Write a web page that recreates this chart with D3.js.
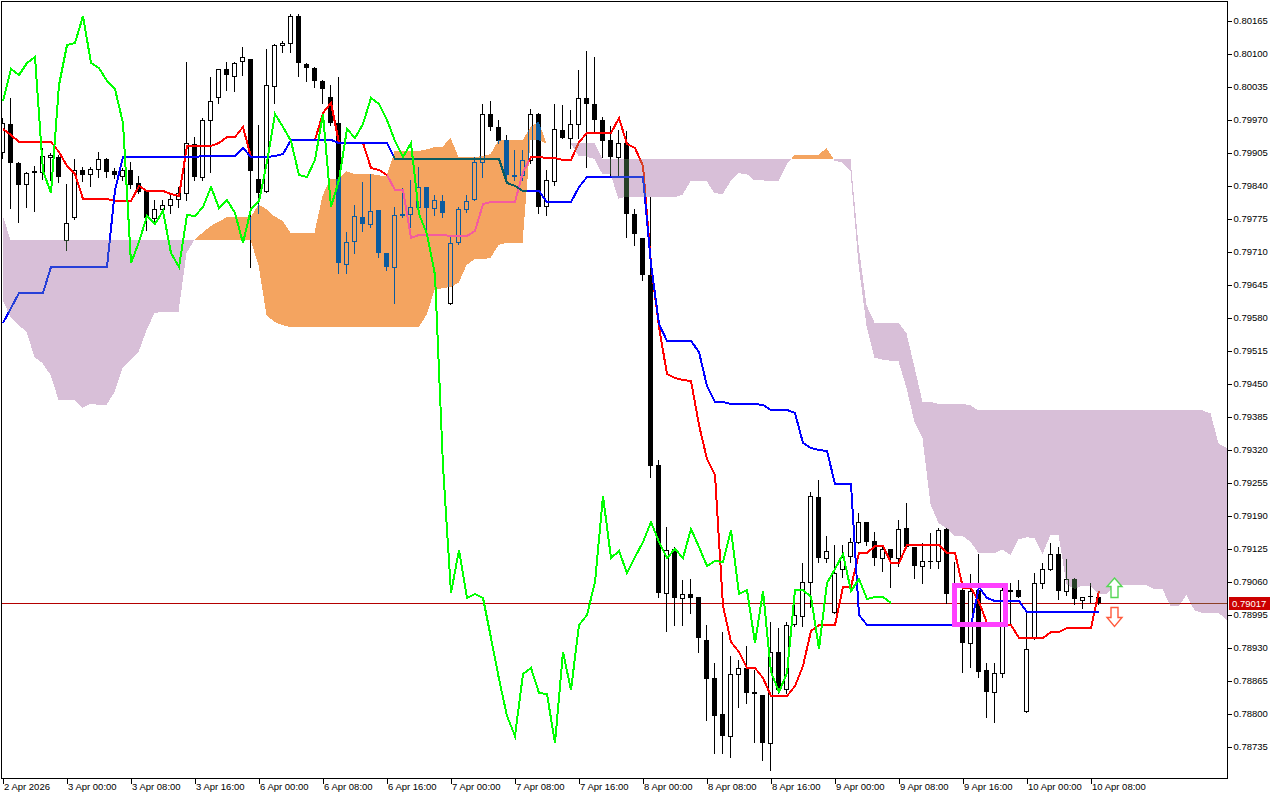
<!DOCTYPE html>
<html><head><meta charset="utf-8">
<script src="https://cdn.jsdelivr.net/npm/d3@7"></script>
<style>html,body{margin:0;padding:0;background:#fff;} svg{display:block;isolation:isolate;}</style>
</head><body>
<svg id="c" width="1280" height="800"></svg>
<script>
// ---------- DATA (H1 candles + Ichimoku) ----------
const open = [0.79905,0.79960,0.79883,0.79842,0.79866,0.79866,0.79895,0.79895,0.79732,0.79777,
0.79870,0.79862,0.79872,0.79891,0.79868,0.79858,0.79870,0.79844,0.79830,0.79775,
0.79793,0.79801,0.79812,0.79824,0.79921,0.79856,0.79968,0.80013,0.80068,0.80055,
0.80084,0.80088,0.79852,0.79828,0.80035,0.80116,0.80120,0.80173,0.80078,0.80070,
0.80045,0.80013,0.79962,0.79684,0.79730,0.79777,0.79763,0.79791,0.79706,0.79678,
0.79783,0.79783,0.79797,0.79836,0.79795,0.79808,0.79608,0.79728,0.79793,0.79812,
0.79885,0.79980,0.79954,0.79929,0.79860,0.79860,0.79889,0.79980,0.79799,0.79848,
0.79948,0.79933,0.79960,0.80011,0.79999,0.79968,0.79929,0.79895,0.79923,0.79783,
0.79736,0.79663,0.79288,0.79036,0.79123,0.79027,0.79034,0.79028,0.78944,0.78869,
0.78798,0.78755,0.78877,0.78889,0.78841,0.78835,0.78741,0.78920,0.78847,0.78975,
0.78991,0.79058,0.79225,0.79105,0.78999,0.79084,0.79109,0.79137,0.79176,0.79139,
0.79105,0.79123,0.79105,0.79164,0.79127,0.79090,0.79099,0.79099,0.79162,0.79034,
0.79042,0.78938,0.79042,0.78885,0.78841,0.78879,0.79041,0.79042,0.78804,0.78948,
0.79056,0.79084,0.79113,0.79040,0.79064,0.79023,0.79030,0.79028];
const high = [0.79972,0.80011,0.79885,0.79866,0.79877,0.79913,0.79903,0.79899,0.79842,0.79891,
0.79875,0.79875,0.79905,0.79893,0.79874,0.79874,0.79885,0.79858,0.79830,0.79810,
0.79810,0.79824,0.79836,0.80082,0.79935,0.79972,0.80053,0.80068,0.80082,0.80082,
0.80112,0.80088,0.79958,0.80108,0.80118,0.80124,0.80177,0.80177,0.80080,0.80072,
0.80047,0.80037,0.80053,0.79747,0.79801,0.79846,0.79862,0.79791,0.79706,0.79797,
0.79834,0.79850,0.79875,0.79836,0.79820,0.79820,0.79738,0.79797,0.79820,0.79895,
0.79999,0.80005,0.79968,0.79938,0.79909,0.79909,0.79990,0.79982,0.79870,0.79999,
0.79998,0.79988,0.80067,0.80104,0.80092,0.79974,0.79956,0.79948,0.79946,0.79793,
0.79736,0.79816,0.79298,0.79166,0.79127,0.79062,0.79064,0.79028,0.78973,0.78898,
0.78960,0.78912,0.78904,0.78932,0.78885,0.78835,0.78979,0.78967,0.78979,0.79019,
0.79096,0.79235,0.79259,0.79149,0.79131,0.79131,0.79145,0.79194,0.79176,0.79156,
0.79131,0.79123,0.79180,0.79214,0.79127,0.79135,0.79154,0.79164,0.79164,0.79097,
0.79050,0.79074,0.79113,0.78898,0.78898,0.79050,0.79056,0.79062,0.79003,0.79076,
0.79096,0.79135,0.79127,0.79103,0.79066,0.79028,0.79056,0.79030];
const low = [0.79893,0.79795,0.79767,0.79797,0.79789,0.79852,0.79850,0.79846,0.79712,0.79773,
0.79848,0.79838,0.79856,0.79856,0.79854,0.79850,0.79834,0.79824,0.79751,0.79763,
0.79785,0.79785,0.79797,0.79810,0.79850,0.79850,0.79866,0.80001,0.80027,0.80025,
0.80057,0.79678,0.79785,0.79826,0.80001,0.80102,0.80102,0.80055,0.80045,0.80033,
0.80001,0.79958,0.79667,0.79667,0.79706,0.79749,0.79757,0.79698,0.79673,0.79608,
0.79777,0.79757,0.79785,0.79751,0.79781,0.79777,0.79606,0.79724,0.79787,0.79810,
0.79856,0.79948,0.79923,0.79850,0.79850,0.79850,0.79883,0.79785,0.79781,0.79840,
0.79933,0.79913,0.79933,0.79875,0.79942,0.79895,0.79860,0.79860,0.79738,0.79722,
0.79653,0.79265,0.79028,0.78962,0.78973,0.78973,0.78997,0.78920,0.78786,0.78721,
0.78721,0.78713,0.78812,0.78820,0.78743,0.78707,0.78688,0.78839,0.78839,0.78971,
0.78971,0.79009,0.79097,0.79097,0.78997,0.79068,0.79097,0.79135,0.79131,0.79091,
0.79080,0.79048,0.79090,0.79127,0.79066,0.79056,0.79086,0.79086,0.79017,0.79027,
0.78881,0.78891,0.78871,0.78792,0.78782,0.78871,0.78977,0.79028,0.78802,0.78946,
0.79046,0.79082,0.79025,0.79032,0.79015,0.79007,0.79019,0.79015];
const close = [0.79962,0.79883,0.79840,0.79864,0.79868,0.79897,0.79899,0.79856,0.79765,0.79870,
0.79860,0.79872,0.79891,0.79866,0.79860,0.79870,0.79840,0.79826,0.79775,0.79793,
0.79801,0.79812,0.79824,0.79923,0.79856,0.79968,0.80005,0.80068,0.80057,0.80080,
0.80092,0.79868,0.79824,0.80037,0.80116,0.80120,0.80173,0.80080,0.80070,0.80045,
0.80029,0.79962,0.79686,0.79728,0.79779,0.79763,0.79789,0.79706,0.79678,0.79781,
0.79779,0.79797,0.79836,0.79795,0.79810,0.79785,0.79726,0.79793,0.79808,0.79885,
0.79980,0.79954,0.79927,0.79860,0.79856,0.79889,0.79980,0.79797,0.79850,0.79950,
0.79933,0.79960,0.80011,0.79999,0.79968,0.79927,0.79895,0.79923,0.79783,0.79743,
0.79663,0.79286,0.79036,0.79121,0.79027,0.79034,0.79027,0.78948,0.78867,0.78794,
0.78755,0.78877,0.78889,0.78839,0.78837,0.78741,0.78920,0.78845,0.78973,0.78993,
0.79058,0.79227,0.79105,0.79119,0.79076,0.79107,0.79137,0.79176,0.79137,0.79105,
0.79123,0.79105,0.79162,0.79127,0.79090,0.79099,0.79097,0.79160,0.79034,0.79042,
0.78938,0.79040,0.78881,0.78841,0.78879,0.79042,0.79043,0.79028,0.78926,0.79056,
0.79084,0.79113,0.79040,0.79064,0.79025,0.79028,0.79029,0.79017];
const tenkan = [0.79950,0.79938,0.79925,0.79925,0.79925,0.79925,0.79925,0.79905,0.79877,0.79862,
0.79812,0.79812,0.79812,0.79812,0.79808,0.79808,0.79808,0.79839,0.79828,0.79828,
0.79828,0.79822,0.79818,0.79917,0.79917,0.79917,0.79917,0.79923,0.79934,0.79934,
0.79954,0.79895,0.79895,0.79895,0.79897,0.79901,0.79928,0.79928,0.79928,0.79928,
0.79981,0.80001,0.79922,0.79922,0.79922,0.79922,0.79873,0.79870,0.79860,0.79830,
0.79830,0.79735,0.79741,0.79741,0.79741,0.79741,0.79740,0.79740,0.79740,0.79750,
0.79803,0.79806,0.79806,0.79806,0.79806,0.79865,0.79896,0.79895,0.79893,0.79893,
0.79890,0.79890,0.79924,0.79942,0.79942,0.79942,0.79942,0.79972,0.79921,0.79913,
0.79878,0.79684,0.79560,0.79468,0.79459,0.79455,0.79454,0.79368,0.79301,0.79269,
0.79010,0.78940,0.78920,0.78889,0.78889,0.78868,0.78833,0.78833,0.78833,0.78853,
0.78892,0.78962,0.78973,0.78973,0.78973,0.79049,0.79049,0.79115,0.79115,0.79128,
0.79128,0.79096,0.79096,0.79131,0.79131,0.79131,0.79131,0.79131,0.79115,0.79115,
0.79047,0.79047,0.79018,0.78978,0.78973,0.78973,0.78973,0.78948,0.78948,0.78948,
0.78948,0.78959,0.78959,0.78968,0.78968,0.78968,0.78968,0.79040];
const kijun = [0.79568,0.79598,0.79627,0.79627,0.79627,0.79627,0.79679,0.79679,0.79679,0.79679,
0.79679,0.79679,0.79679,0.79679,0.79830,0.79895,0.79895,0.79895,0.79895,0.79895,
0.79895,0.79895,0.79895,0.79895,0.79895,0.79897,0.79897,0.79897,0.79897,0.79897,
0.79912,0.79895,0.79895,0.79895,0.79897,0.79901,0.79928,0.79928,0.79928,0.79928,
0.79928,0.79928,0.79922,0.79922,0.79922,0.79922,0.79922,0.79922,0.79922,0.79892,
0.79892,0.79892,0.79892,0.79892,0.79892,0.79892,0.79891,0.79891,0.79891,0.79891,
0.79891,0.79891,0.79891,0.79843,0.79839,0.79829,0.79829,0.79829,0.79806,0.79806,
0.79806,0.79806,0.79836,0.79855,0.79855,0.79855,0.79855,0.79855,0.79855,0.79855,
0.79855,0.79684,0.79566,0.79533,0.79533,0.79533,0.79533,0.79512,0.79445,0.79413,
0.79413,0.79409,0.79409,0.79409,0.79409,0.79406,0.79396,0.79396,0.79396,0.79390,
0.79331,0.79322,0.79318,0.79317,0.79252,0.79252,0.79252,0.78993,0.78973,0.78973,
0.78973,0.78973,0.78973,0.78973,0.78973,0.78973,0.78973,0.78973,0.78973,0.78973,
0.78973,0.78973,0.79049,0.79026,0.79021,0.79021,0.79021,0.79021,0.78998,0.78998,
0.78998,0.78998,0.78998,0.78998,0.78998,0.78998,0.78998,0.78998];
// Senkou spans, already displaced 26 bars forward (index = bar position on chart)
const spanA = [0.79614,0.79580,0.79564,0.79551,0.79501,0.79489,0.79466,0.79417,0.79417,0.79417,
0.79401,0.79409,0.79407,0.79407,0.79432,0.79480,0.79495,0.79511,0.79554,0.79588,
0.79590,0.79590,0.79590,0.79706,0.79732,0.79746,0.79759,0.79768,0.79776,0.79776,
0.79776,0.79776,0.79802,0.79792,0.79778,0.79770,0.79746,0.79746,0.79746,0.79746,
0.79819,0.79852,0.79852,0.79867,0.79862,0.79862,0.79862,0.79859,0.79857,0.79906,
0.79906,0.79907,0.79907,0.79910,0.79915,0.79915,0.79933,0.79895,0.79895,0.79895,
0.79897,0.79901,0.79928,0.79928,0.79928,0.79928,0.79954,0.79965,0.79922,0.79922,
0.79922,0.79922,0.79898,0.79896,0.79891,0.79861,0.79861,0.79813,0.79817,0.79817,
0.79817,0.79817,0.79816,0.79816,0.79816,0.79821,0.79847,0.79848,0.79848,0.79824,
0.79822,0.79847,0.79863,0.79862,0.79849,0.79849,0.79848,0.79848,0.79880,0.79899,
0.79899,0.79899,0.79899,0.79913,0.79888,0.79884,0.79867,0.79684,0.79563,0.79500,
0.79496,0.79494,0.79493,0.79440,0.79373,0.79341,0.79211,0.79174,0.79164,0.79149,
0.79149,0.79137,0.79115,0.79115,0.79115,0.79122,0.79111,0.79142,0.79146,0.79145,
0.79113,0.79151,0.79151,0.79054,0.79044,0.79051,0.79051,0.79034,0.79034,0.79052,
0.79052,0.79052,0.79052,0.79052,0.79044,0.79044,0.79010,0.79010,0.79033,0.79002,
0.78997,0.78997,0.78997,0.78984,0.78973];
const spanB = [0.79781,0.79732,0.79732,0.79732,0.79732,0.79732,0.79732,0.79732,0.79732,0.79732,
0.79732,0.79732,0.79732,0.79732,0.79732,0.79732,0.79732,0.79732,0.79732,0.79732,
0.79732,0.79732,0.79732,0.79732,0.79732,0.79732,0.79732,0.79732,0.79732,0.79732,
0.79732,0.79732,0.79682,0.79584,0.79570,0.79564,0.79560,0.79560,0.79560,0.79560,
0.79560,0.79560,0.79560,0.79560,0.79560,0.79560,0.79560,0.79560,0.79560,0.79560,
0.79560,0.79560,0.79560,0.79584,0.79633,0.79637,0.79639,0.79647,0.79682,0.79694,
0.79694,0.79696,0.79722,0.79726,0.79726,0.79726,0.79928,0.79928,0.79922,0.79922,
0.79922,0.79922,0.79922,0.79922,0.79922,0.79892,0.79892,0.79892,0.79892,0.79892,
0.79892,0.79892,0.79891,0.79891,0.79891,0.79891,0.79891,0.79891,0.79891,0.79891,
0.79891,0.79891,0.79891,0.79891,0.79891,0.79891,0.79891,0.79891,0.79891,0.79891,
0.79891,0.79891,0.79891,0.79891,0.79891,0.79891,0.79891,0.79721,0.79603,0.79569,
0.79569,0.79569,0.79569,0.79548,0.79481,0.79413,0.79413,0.79409,0.79409,0.79409,
0.79409,0.79406,0.79396,0.79396,0.79396,0.79396,0.79396,0.79396,0.79396,0.79396,
0.79396,0.79396,0.79396,0.79396,0.79396,0.79396,0.79396,0.79396,0.79396,0.79396,
0.79396,0.79396,0.79396,0.79396,0.79396,0.79396,0.79396,0.79396,0.79396,0.79396,
0.79396,0.79390,0.79331,0.79322,0.79318];
const chikouShift = 26;
const bidPrice = 0.79017;
const yTicks = [0.80165,0.80100,0.80035,0.79970,0.79905,0.79840,0.79775,0.79710,0.79645,0.79580,0.79515,0.79450,
  0.79385,0.79320,0.79255,0.79190,0.79125,0.79060,0.78995,0.78930,0.78865,0.78800,0.78735];
const xTickBars = [0,8,16,24,32,40,48,56,64,72,80,88,96,104,112,120,128,136];
const xTickLabels = ["2 Apr 2026","3 Apr 00:00","3 Apr 08:00","3 Apr 16:00","6 Apr 00:00","6 Apr 08:00",
  "6 Apr 16:00","7 Apr 00:00","7 Apr 08:00","7 Apr 16:00","8 Apr 00:00","8 Apr 08:00","8 Apr 16:00",
  "9 Apr 00:00","9 Apr 08:00","9 Apr 16:00","10 Apr 00:00","10 Apr 08:00"];
const markBox = {from: 119, to: 125.4, top: 0.79052, bottom: 0.78975};

// ---------- RENDER ----------
const W = 1280, H = 800, L = 2, R = 1227, T = 2, B = 778;
const svg = d3.select('#c');
svg.append('rect').attr('width', W).attr('height', H).attr('fill', '#fff');
const x = d3.scaleLinear().domain([0, 153]).range([2, 1226]);
const y = d3.scaleLinear().domain([0.78735, 0.80165]).range([746, 20]);
const FONT = "'Liberation Sans', Arial, sans-serif";

svg.append('defs').append('clipPath').attr('id', 'plot')
  .append('rect').attr('x', L).attr('y', T).attr('width', R - L).attr('height', B - T);
const plot = svg.append('g').attr('clip-path', 'url(#plot)');
plot.append('rect').attr('x', 0).attr('y', 0).attr('width', W).attr('height', H).attr('fill', '#fff');

// bid line
const bidY = Math.round(y(bidPrice)) + 0.5;
plot.append('line').attr('x1', L).attr('x2', R).attr('y1', bidY).attr('y2', bidY)
  .attr('stroke', '#b40000').attr('stroke-width', 1).attr('shape-rendering', 'crispEdges');

// candles
const cg = plot.append('g').attr('shape-rendering', 'crispEdges');
open.forEach((o, i) => {
  const c = close[i], cx = Math.round(x(i));
  cg.append('line').attr('x1', cx + 0.5).attr('x2', cx + 0.5)
    .attr('y1', Math.round(y(high[i]))).attr('y2', Math.round(y(low[i])) + 1)
    .attr('stroke', '#000');
  const top = Math.round(y(Math.max(o, c))), bot = Math.round(y(Math.min(o, c)));
  if (c > o) {
    cg.append('rect').attr('x', cx - 1.5).attr('y', top + 0.5).attr('width', 4)
      .attr('height', Math.max(bot - top, 1)).attr('fill', '#fff').attr('stroke', '#000');
  } else {
    cg.append('rect').attr('x', cx - 2).attr('y', top).attr('width', 5)
      .attr('height', Math.max(bot - top, 1)).attr('fill', '#000');
  }
});

// tenkan & kijun (aliased, snapped to whole pixels like the terminal)
const lineGen = d3.line().x((d, i) => Math.round(x(i)) + 1).y(d => Math.round(y(d)));
plot.append('path').attr('d', lineGen(tenkan)).attr('fill', 'none').attr('stroke', '#ff0000')
  .attr('stroke-width', 2).attr('shape-rendering', 'crispEdges');
plot.append('path').attr('d', lineGen(kijun)).attr('fill', 'none').attr('stroke', '#0000ff')
  .attr('stroke-width', 2).attr('shape-rendering', 'crispEdges');

// cloud (drawn like the terminal: colour inverted over what is beneath)
const pts = [];
for (let j = 0; j < spanA.length; j++) {
  pts.push({j: j, a: spanA[j], b: spanB[j]});
  if (j < spanA.length - 1) {
    const d0 = spanA[j] - spanB[j], d1 = spanA[j + 1] - spanB[j + 1];
    if (d0 * d1 < 0) {
      const t = d0 / (d0 - d1);
      const v = spanA[j] + t * (spanA[j + 1] - spanA[j]);
      pts.push({j: j + t, a: v, b: v});
    }
  }
}
const cloud = plot.append('g').style('mix-blend-mode', 'difference').attr('shape-rendering', 'crispEdges');
cloud.append('path').attr('fill', '#0b5b9f')   // inverse of sandy brown #F4A460
  .attr('d', d3.area().x(d => x(d.j) + 0.5).y0(d => y(d.b)).y1(d => y(Math.max(d.a, d.b)))(pts));
cloud.append('path').attr('fill', '#274027')   // inverse of thistle #D8BFD8
  .attr('d', d3.area().x(d => x(d.j) + 0.5).y0(d => y(d.a)).y1(d => y(Math.max(d.a, d.b)))(pts));

// chikou span
const chikou = close.slice(chikouShift);
plot.append('path').attr('d', lineGen(chikou)).attr('fill', 'none').attr('stroke', '#00ff00')
  .attr('stroke-width', 2).attr('shape-rendering', 'crispEdges');

// highlighted box
svg.append('rect').attr('x', Math.round(x(markBox.from)) + 0.5).attr('y', Math.round(y(markBox.top)) + 0.5)
  .attr('width', Math.round(x(markBox.to) - x(markBox.from))).attr('height', Math.round(y(markBox.bottom) - y(markBox.top)))
  .attr('fill', 'none').attr('stroke', '#ff40ff').attr('stroke-width', 5);

// arrows
const ax = x(139) + 0.5;
svg.append('path').attr('d', `M${ax},578 L${ax + 7.5},586.5 L${ax + 3.5},586.5 L${ax + 3.5},597.5 L${ax - 3.5},597.5 L${ax - 3.5},586.5 L${ax - 7.5},586.5 Z`)
  .attr('fill', '#fff').attr('stroke', '#55d655').attr('stroke-width', 1.4);
svg.append('path').attr('d', `M${ax - 3.5},607.5 L${ax + 3.5},607.5 L${ax + 3.5},617.5 L${ax + 7.5},617.5 L${ax},626.5 L${ax - 7.5},617.5 L${ax - 3.5},617.5 Z`)
  .attr('fill', '#fff').attr('stroke', '#ff5a3c').attr('stroke-width', 1.4);

// frame
svg.append('rect').attr('x', 1.5).attr('y', 1.5).attr('width', R - 1).attr('height', B - 1)
  .attr('fill', 'none').attr('stroke', '#000').attr('shape-rendering', 'crispEdges');

// y axis (right)
const yAxis = d3.axisRight(y).tickValues(yTicks).tickSize(4).tickPadding(2).tickFormat(d3.format('.5f'));
const ya = svg.append('g').attr('transform', `translate(${R + 0.5},0.5)`).call(yAxis);
ya.select('.domain').remove();
ya.selectAll('line').attr('stroke', '#000').attr('shape-rendering', 'crispEdges');
ya.selectAll('text').attr('font-family', FONT).attr('font-size', '9.5px').attr('fill', '#000');

// x axis (bottom)
const xa = svg.append('g').attr('transform', `translate(0.5,${B + 0.5})`)
  .call(d3.axisBottom(x).tickValues(xTickBars).tickSize(5).tickFormat((d, i) => xTickLabels[i]));
xa.select('.domain').remove();
xa.selectAll('line').attr('stroke', '#000').attr('shape-rendering', 'crispEdges');
xa.selectAll('text').attr('font-family', FONT).attr('font-size', '9.5px').attr('fill', '#000')
  .attr('text-anchor', 'start').attr('x', 1).attr('y', 5).attr('dy', '0.71em');

// bid price label
svg.append('rect').attr('x', R + 2).attr('y', bidY - 6.5).attr('width', 41).attr('height', 13).attr('fill', '#cc0000');
svg.append('text').attr('x', R + 5).attr('y', bidY + 3.5).attr('font-family', FONT).attr('font-size', '9.5px')
  .attr('fill', '#fff').text(bidPrice.toFixed(5));
</script>
</body></html>
